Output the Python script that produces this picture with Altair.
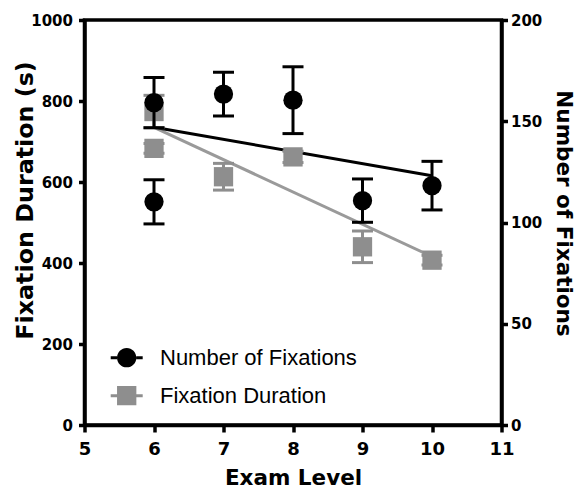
import altair as alt
import pandas as pd

# ---- data ----
series_names = ["Number of Fixations", "Fixation Duration"]

count_levels = [6, 6, 7, 8, 9, 10]
count_mean = [159.2, 110.2, 163.4, 160.4, 110.8, 118.2]
count_err = [12.4, 10.9, 10.8, 16.5, 10.7, 12.0]

dur_levels = [6, 6, 7, 8, 9, 10]
dur_mean = [774, 683, 613, 662, 440, 407]
dur_err = [40, 12, 33, 14, 39, 12]

trend_levels = [6, 10]
count_trend = [147.0, 123.1]
dur_trend = [735, 416]

x_ticks = [5, 6, 7, 8, 9, 10, 11]
dur_ticks = [0, 200, 400, 600, 800, 1000]
count_ticks = [0, 50, 100, 150, 200]

# ---- tables ----
count_df = pd.DataFrame({
    "level": count_levels,
    "value": count_mean,
    "lo": [m - e for m, e in zip(count_mean, count_err)],
    "hi": [m + e for m, e in zip(count_mean, count_err)],
    "series": series_names[0],
})
dur_df = pd.DataFrame({
    "level": dur_levels,
    "value": dur_mean,
    "lo": [m - e for m, e in zip(dur_mean, dur_err)],
    "hi": [m + e for m, e in zip(dur_mean, dur_err)],
    "series": series_names[1],
})
count_trend_df = pd.DataFrame({"level": trend_levels, "value": count_trend})
dur_trend_df = pd.DataFrame({"level": trend_levels, "value": dur_trend})

BLACK = "#000000"
GREY = "#8e8e8e"
GREY_LINE = "#9a9a9a"
BOLD = "DejaVu Sans"

x_axis = alt.Axis(
    values=x_ticks, format="d", title="Exam Level", grid=False,
    labelFont=BOLD, labelFontWeight="bold", labelFontSize=18, labelPadding=8,
    labelFlush=False, tickSize=7, tickWidth=3.5, domainWidth=3.5,
    titleFont=BOLD, titleFontWeight="bold", titleFontSize=21.5,
    titleBaseline="alphabetic", titleY=59,
)
x_enc = alt.X("level:Q", scale=alt.Scale(domain=[5, 11], nice=False, zero=False), axis=x_axis)

dur_scale = alt.Scale(domain=[0, 1000], nice=False)
count_scale = alt.Scale(domain=[0, 200], nice=False)

left_axis = alt.Axis(
    orient="left", values=dur_ticks, format="d", title="Fixation Duration (s)", grid=False,
    labelFont=BOLD, labelFontWeight="bold", labelFontSize=15, labelPadding=6,
    tickSize=6, tickWidth=3.5, domainWidth=3.5,
    titleFont=BOLD, titleFontWeight="bold", titleFontSize=23.8,
    titleBaseline="alphabetic", titleX=-52, titleY=180,
)
right_axis = alt.Axis(
    orient="right", values=count_ticks, format="d", title="Number of Fixations", grid=False,
    labelFont=BOLD, labelFontWeight="bold", labelFontSize=15, labelPadding=3,
    tickSize=6, tickWidth=3.5, domainWidth=3.5,
    titleFont=BOLD, titleFontWeight="bold", titleFontSize=21.5,
    titleBaseline="alphabetic", titleX=54.5, titleY=193,
)

# legend symbols: marker with a short line through it
circle_path = ("M-1.6,-0.15H-0.965V0.15H-1.6Z "
               "M0.965,-0.15H1.6V0.15H0.965Z "
               "M0.965,0A0.965,0.965,0,1,1,-0.965,0A0.965,0.965,0,1,1,0.965,0Z")
square_path = ("M-1.6,-0.15H-0.965V0.15H-1.6Z "
               "M0.965,-0.15H1.6V0.15H0.965Z "
               "M-0.965,-0.965H0.965V0.965H-0.965Z")

def legend(symbol, y):
    return alt.Legend(
        orient="none", legendX=31.2, legendY=y, title=None, padding=0,
        symbolType=symbol, symbolSize=400, symbolStrokeWidth=0, symbolOpacity=1,
        labelFont="Liberation Sans", labelFontSize=22, labelColor="black",
        labelOffset=22.3, labelLimit=400,
    )

# ---- trend lines ----
grey_line = alt.Chart(dur_trend_df).mark_line(color=GREY_LINE, strokeWidth=3).encode(
    x=x_enc, y=alt.Y("value:Q", scale=dur_scale, axis=None))
black_line = alt.Chart(count_trend_df).mark_line(color=BLACK, strokeWidth=3).encode(
    x=x_enc, y=alt.Y("value:Q", scale=count_scale, axis=None))

# ---- fixation duration (left axis) ----
dur_base = alt.Chart(dur_df)
dur_y = alt.Y("value:Q", scale=dur_scale, axis=left_axis)
dur_group = alt.layer(
    dur_base.mark_rule(color=GREY, strokeWidth=3).encode(
        x=x_enc, y=alt.Y("lo:Q", scale=dur_scale, axis=left_axis), y2="hi:Q"),
    dur_base.mark_tick(orient="horizontal", size=21, thickness=3, color=GREY, opacity=1).encode(
        x=x_enc, y=alt.Y("lo:Q", scale=dur_scale, axis=left_axis)),
    dur_base.mark_tick(orient="horizontal", size=21, thickness=3, color=GREY, opacity=1).encode(
        x=x_enc, y=alt.Y("hi:Q", scale=dur_scale, axis=left_axis)),
    dur_base.mark_point(shape="square", filled=True, size=372, opacity=1).encode(
        x=x_enc, y=dur_y,
        color=alt.Color("series:N", scale=alt.Scale(domain=[series_names[1]], range=[GREY]),
                        legend=legend(square_path, 364.7))),
)

# ---- number of fixations (right axis) ----
cnt_base = alt.Chart(count_df)
cnt_y = alt.Y("value:Q", scale=count_scale, axis=right_axis)
cnt_group = alt.layer(
    cnt_base.mark_rule(color=BLACK, strokeWidth=3).encode(
        x=x_enc, y=alt.Y("lo:Q", scale=count_scale, axis=right_axis), y2="hi:Q"),
    cnt_base.mark_tick(orient="horizontal", size=21, thickness=3, color=BLACK, opacity=1).encode(
        x=x_enc, y=alt.Y("lo:Q", scale=count_scale, axis=right_axis)),
    cnt_base.mark_tick(orient="horizontal", size=21, thickness=3, color=BLACK, opacity=1).encode(
        x=x_enc, y=alt.Y("hi:Q", scale=count_scale, axis=right_axis)),
    cnt_base.mark_point(shape="circle", filled=True, size=372, opacity=1).encode(
        x=x_enc, y=cnt_y,
        color=alt.Color("series:N", scale=alt.Scale(domain=[series_names[0]], range=[BLACK]),
                        legend=legend(circle_path, 326.7))),
)

chart = alt.layer(grey_line, black_line, dur_group, cnt_group).resolve_scale(
    y="independent", color="independent"
).properties(
    width=417, height=405,
    autosize=alt.AutoSizeParams(type="none"),
    padding={"left": 76.5, "top": 12, "right": 75.5, "bottom": 64},
    background="white",
).configure_view(
    stroke="black", strokeWidth=3.5
).configure_axis(
    domainColor="black", tickColor="black", labelColor="black", titleColor="black"
)

chart.save("out.html", embed_options={"renderer": "svg", "actions": False})
